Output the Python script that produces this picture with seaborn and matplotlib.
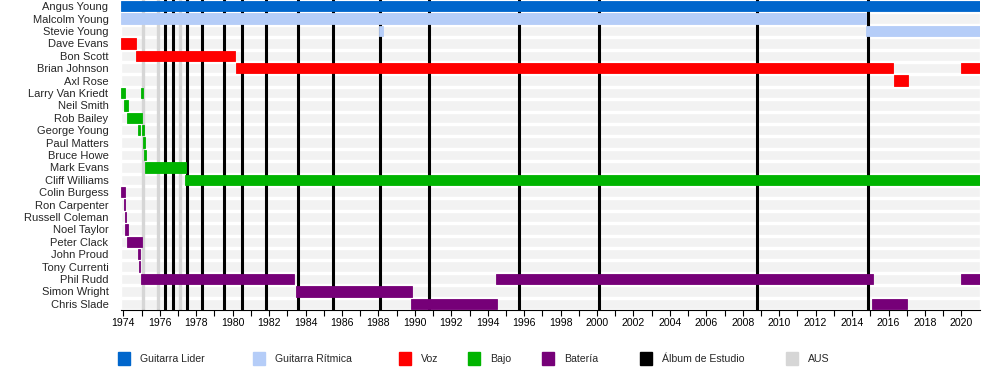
import matplotlib
matplotlib.use("Agg")
import matplotlib.pyplot as plt
from matplotlib.patches import Rectangle
import seaborn as sns
import pandas as pd
import numpy as np

# -------------------------------------------------
# Data: members, role segments, album releases
# -------------------------------------------------
members = [
    "Angus Young", "Malcolm Young", "Stevie Young", "Dave Evans", "Bon Scott",
    "Brian Johnson", "Axl Rose", "Larry Van Kriedt", "Neil Smith", "Rob Bailey",
    "George Young", "Paul Matters", "Bruce Howe", "Mark Evans", "Cliff Williams",
    "Colin Burgess", "Ron Carpenter", "Russell Coleman", "Noel Taylor",
    "Peter Clack", "John Proud", "Tony Currenti", "Phil Rudd", "Simon Wright",
    "Chris Slade",
]

START = 1973.87
END = 2021.02

seg_member = [
    "Angus Young", "Malcolm Young", "Stevie Young", "Stevie Young",
    "Dave Evans", "Bon Scott", "Brian Johnson", "Brian Johnson", "Axl Rose",
    "Larry Van Kriedt", "Larry Van Kriedt", "Neil Smith", "Rob Bailey",
    "George Young", "George Young", "Paul Matters", "Bruce Howe",
    "Mark Evans", "Cliff Williams",
    "Colin Burgess", "Ron Carpenter", "Russell Coleman", "Noel Taylor",
    "Peter Clack", "John Proud", "Tony Currenti", "Phil Rudd", "Phil Rudd",
    "Phil Rudd", "Simon Wright", "Chris Slade", "Chris Slade",
]
seg_role = [
    "lead", "rhythm", "rhythm", "rhythm",
    "vocal", "vocal", "vocal", "vocal", "vocal",
    "bass", "bass", "bass", "bass", "bass", "bass", "bass", "bass",
    "bass", "bass",
    "drums", "drums", "drums", "drums", "drums", "drums", "drums", "drums",
    "drums", "drums", "drums", "drums", "drums",
]
seg_start = [
    START, START, 1988.05, 2014.75,
    START, 1974.67, 1980.18, 2020.0, 2016.29,
    START, 1974.97, 1974.04, 1974.2, 1974.8, 1975.03, 1975.1, 1975.14,
    1975.19, 1977.39,
    START, 1974.02, 1974.08, 1974.09, 1974.2, 1974.8, 1974.85, 1974.97,
    1994.45, 2020.0, 1983.48, 1989.8, 2015.09,
]
seg_end = [
    END, 2014.75, 1988.25, END,
    1974.67, 1980.13, 2016.23, END, 2017.06,
    1974.08, 1975.08, 1974.24, 1975.03, 1974.92, 1975.14, 1975.19, 1975.25,
    1977.42, END,
    1974.08, 1974.08, 1974.15, 1974.26, 1975.03, 1974.92, 1974.92, 1983.37,
    2015.15, END, 1989.85, 1994.5, 2017.03,
]

studio_albums = [1976.29, 1976.71, 1977.51, 1978.34, 1979.54, 1980.53, 1981.85,
                 1983.6, 1985.5, 1988.08, 1990.77, 1995.72, 2000.1, 2008.78,
                 2014.87]
aus_albums = [1975.08, 1975.88, 1977.1]

role_colors = {
    "lead": "#0066cc",
    "rhythm": "#b5cdf8",
    "vocal": "#ff0000",
    "bass": "#00b400",
    "drums": "#760078",
}
legend_labels = ["Guitarra Lider", "Guitarra Rítmica", "Voz", "Bajo",
                 "Batería", "Álbum de Estudio", "AUS"]
legend_colors = [role_colors["lead"], role_colors["rhythm"], role_colors["vocal"],
                 role_colors["bass"], role_colors["drums"], "#000000", "#d6d6d6"]

df = pd.DataFrame({"member": seg_member, "role": seg_role,
                   "start": seg_start, "end": seg_end})
df["row"] = df["member"].map({m: i for i, m in enumerate(members)})

# -------------------------------------------------
# Figure
# -------------------------------------------------
sns.set_theme(style="white")
plt.rcParams["font.family"] = ["Liberation Sans", "DejaVu Sans"]

fig = plt.figure(figsize=(10, 3.9), dpi=100)
ax = fig.add_axes([0.121, 80 / 390, 0.859, 310 / 390])

# light grey row bands
rows = np.arange(len(members))
ax.barh(rows, END - START, left=START, height=0.84, color="#f2f2f2", zorder=0)

# album release lines
for x in aus_albums:
    ax.axvline(x, color="#d6d6d6", lw=2.4, zorder=1)
for x in studio_albums:
    ax.axvline(x, color="black", lw=2.2, zorder=2)

# member bars (thin edge so very short stints stay visible)
bar_colors = df["role"].map(role_colors)
ax.barh(df["row"], df["end"] - df["start"], left=df["start"], height=0.84,
        color=bar_colors, edgecolor=bar_colors, linewidth=0.6, zorder=3)

ax.set_xlim(START, END)
ax.set_ylim(len(members) - 0.5, -0.5)
ax.set_yticks(rows)
ax.set_yticklabels(members, fontsize=8)
ax.set_xticks(np.arange(1974, 2021, 2))
ax.set_xticks(np.arange(1975, 2021, 2), minor=True)
ax.tick_params(axis="x", which="both", direction="out", length=4, width=0.8,
               colors="black", labelsize=7.6, pad=2, bottom=True)
ax.tick_params(axis="y", length=0, pad=9)
for side in ["left", "top", "right"]:
    ax.spines[side].set_visible(False)
ax.spines["bottom"].set_color("black")
ax.spines["bottom"].set_linewidth(0.8)

# legend along the bottom
leg_x = [118, 253, 399, 468, 542, 640, 786]
for x, lab, col in zip(leg_x, legend_labels, legend_colors):
    fig.add_artist(Rectangle((x / 1000, 25 / 390), 12 / 1000, 13 / 390,
                             transform=fig.transFigure, color=col))
    fig.text((x + 22) / 1000, 31.5 / 390, lab, fontsize=7.6, va="center",
             ha="left")

fig.savefig("out.png", dpi=100)
